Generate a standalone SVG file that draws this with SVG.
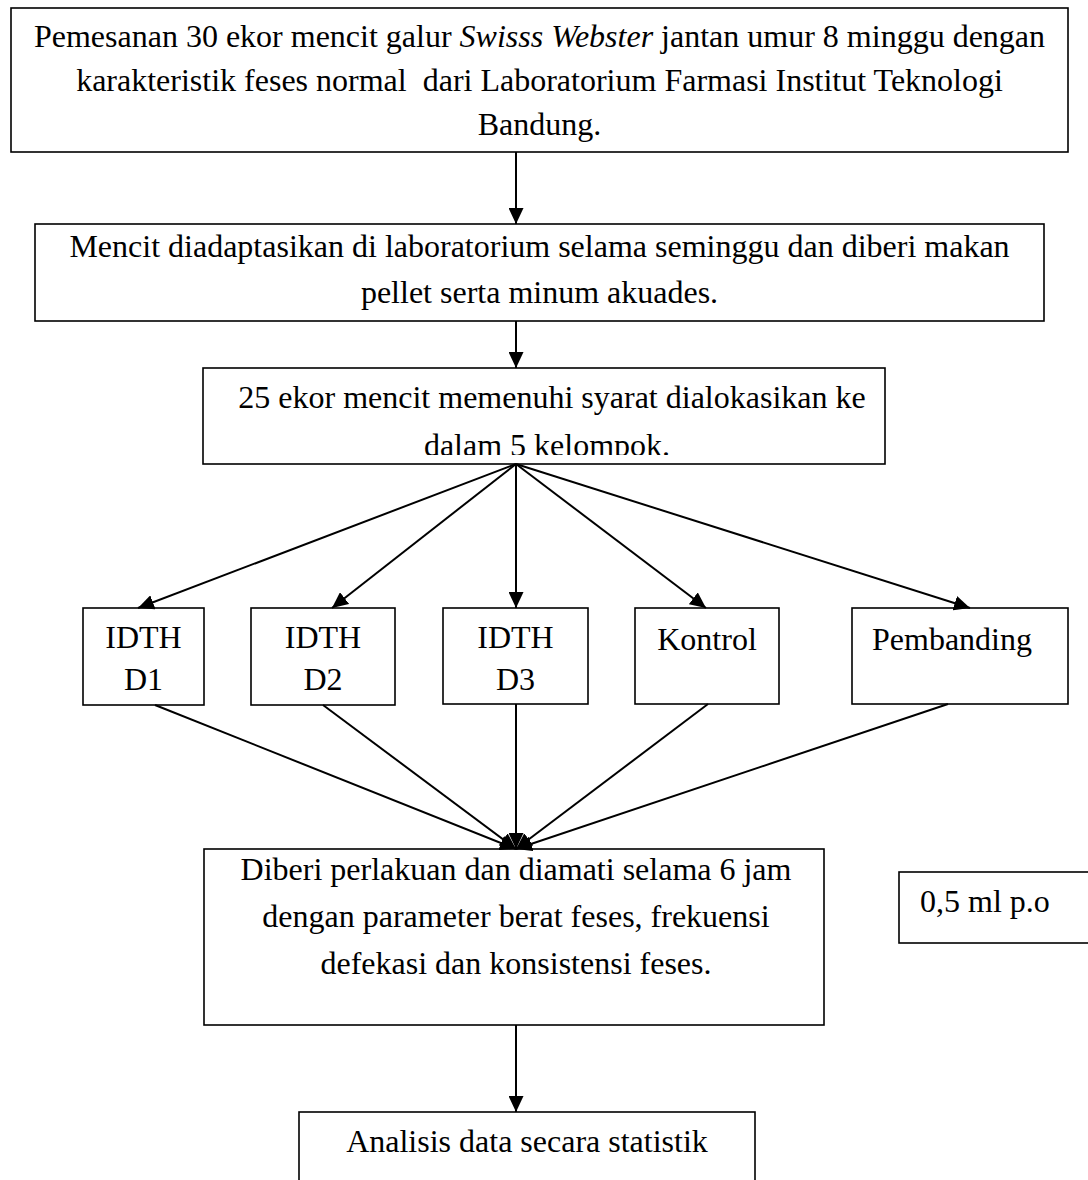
<svg xmlns="http://www.w3.org/2000/svg" width="1088" height="1180" viewBox="0 0 1088 1180">
<defs>
<style>
.box{fill:#fff;stroke:#000;stroke-width:1.6}
.t{font-family:"Liberation Serif","Times New Roman",serif;font-size:32px;fill:#000}
.c{text-anchor:middle}
.ln{stroke:#000;stroke-width:2;fill:none}
</style>
<marker id="ah" markerUnits="userSpaceOnUse" markerWidth="17" markerHeight="15" refX="16" refY="7.5" orient="auto">
<path d="M0,0 L16,7.5 L0,15 z" fill="#000"/>
</marker>
<clipPath id="cp3"><rect x="203" y="368" width="682" height="87"/></clipPath>
</defs>
<rect width="1088" height="1180" fill="#fff"/>
<g id="n1">
<rect class="box" x="11" y="8" width="1057" height="144"/>
<text class="t c" x="539.5" y="47">Pemesanan 30 ekor mencit galur <tspan font-style="italic">Swisss Webster</tspan> jantan umur 8 minggu dengan</text>
<text class="t c" x="539.5" y="91" xml:space="preserve">karakteristik feses normal  dari Laboratorium Farmasi Institut Teknologi</text>
<text class="t c" x="539.5" y="135">Bandung.</text>
</g>
<g id="n2">
<rect class="box" x="35" y="224" width="1009" height="97"/>
<text class="t c" x="539.5" y="257">Mencit diadaptasikan di laboratorium selama seminggu dan diberi makan</text>
<text class="t c" x="539.5" y="303">pellet serta minum akuades.</text>
</g>
<g id="n3">
<rect class="box" x="203" y="368" width="682" height="96"/>
<g clip-path="url(#cp3)">
<text class="t c" x="552" y="408">25 ekor mencit memenuhi syarat dialokasikan ke</text>
<text class="t c" x="547" y="456">dalam 5 kelompok.</text>
</g>
</g>
<g id="d1">
<rect class="box" x="83" y="608" width="121" height="97"/>
<text class="t c" x="143.5" y="648">IDTH</text>
<text class="t c" x="143.5" y="690">D1</text>
</g>
<g id="d2">
<rect class="box" x="251" y="608" width="144" height="97"/>
<text class="t c" x="323" y="648">IDTH</text>
<text class="t c" x="323" y="690">D2</text>
</g>
<g id="d3">
<rect class="box" x="443" y="608" width="145" height="96"/>
<text class="t c" x="515.5" y="648">IDTH</text>
<text class="t c" x="515.5" y="690">D3</text>
</g>
<g id="kontrol">
<rect class="box" x="635" y="608" width="144" height="96"/>
<text class="t c" x="707" y="650">Kontrol</text>
</g>
<g id="pembanding">
<rect class="box" x="852" y="608" width="216" height="96"/>
<text class="t" x="872" y="650">Pembanding</text>
</g>
<g id="n4">
<rect class="box" x="204" y="849" width="620" height="176"/>
<text class="t c" x="516" y="880">Diberi perlakuan dan diamati selama 6 jam</text>
<text class="t c" x="516" y="927">dengan parameter berat feses, frekuensi</text>
<text class="t c" x="516" y="974">defekasi dan konsistensi feses.</text>
</g>
<g id="dose">
<rect class="box" x="899" y="872" width="200" height="71"/>
<text class="t" x="920" y="912">0,5 ml p.o</text>
</g>
<g id="n5">
<rect class="box" x="299" y="1112" width="456" height="90"/>
<text class="t c" x="527" y="1152">Analisis data secara statistik</text>
</g>
<g id="connectors">
<line class="ln" x1="516" y1="152" x2="516" y2="224" marker-end="url(#ah)"/>
<line class="ln" x1="516" y1="321" x2="516" y2="368" marker-end="url(#ah)"/>
<line class="ln" x1="516" y1="464" x2="138" y2="608" marker-end="url(#ah)"/>
<line class="ln" x1="516" y1="464" x2="332" y2="608" marker-end="url(#ah)"/>
<line class="ln" x1="516" y1="464" x2="516" y2="608" marker-end="url(#ah)"/>
<line class="ln" x1="516" y1="464" x2="706" y2="608" marker-end="url(#ah)"/>
<line class="ln" x1="516" y1="464" x2="970" y2="608" marker-end="url(#ah)"/>
<line class="ln" x1="155" y1="705" x2="516" y2="849" marker-end="url(#ah)"/>
<line class="ln" x1="323" y1="705" x2="516" y2="849" marker-end="url(#ah)"/>
<line class="ln" x1="516" y1="704" x2="516" y2="849" marker-end="url(#ah)"/>
<line class="ln" x1="708" y1="704" x2="516" y2="849" marker-end="url(#ah)"/>
<line class="ln" x1="948" y1="704" x2="516" y2="849" marker-end="url(#ah)"/>
<line class="ln" x1="516" y1="1025" x2="516" y2="1112" marker-end="url(#ah)"/>
</g>
</svg>
